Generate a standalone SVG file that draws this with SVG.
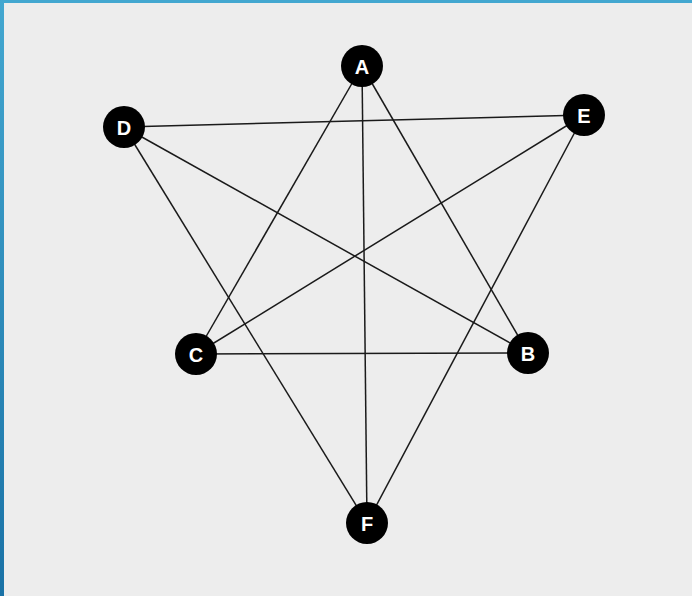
<svg xmlns="http://www.w3.org/2000/svg" width="692" height="596" viewBox="0 0 692 596">
<defs>
<linearGradient id="lb" x1="0" y1="0" x2="0" y2="1">
<stop offset="0" stop-color="#43a7d0"/>
<stop offset="1" stop-color="#1a72a6"/>
</linearGradient>
<style>
.e{stroke:#1a1a1a;stroke-width:1.5;fill:none}
.n circle{fill:#000}
.n text{fill:#fff;font-family:"Liberation Sans",Arial,sans-serif;font-weight:bold;font-size:20px;text-anchor:middle;dominant-baseline:central}
</style>
</defs>
<rect width="692" height="596" fill="#ededed"/>
<rect x="0" y="0" width="692" height="3" fill="#43a7d0"/>
<rect x="0" y="0" width="4" height="596" fill="url(#lb)"/>
<g id="edges">
<line class="e" x1="362" y1="66" x2="196" y2="354"/>
<line class="e" x1="362" y1="66" x2="528" y2="353"/>
<line class="e" x1="362" y1="66" x2="367" y2="523"/>
<line class="e" x1="124" y1="127" x2="584" y2="115"/>
<line class="e" x1="124" y1="127" x2="528" y2="353"/>
<line class="e" x1="124" y1="127" x2="367" y2="523"/>
<line class="e" x1="584" y1="115" x2="196" y2="354"/>
<line class="e" x1="584" y1="115" x2="367" y2="523"/>
<line class="e" x1="196" y1="354" x2="528" y2="353"/>
</g>
<g id="A" class="n"><circle cx="362" cy="66" r="21"/><text x="362" y="67">A</text></g>
<g id="D" class="n"><circle cx="124" cy="127" r="21"/><text x="124" y="128">D</text></g>
<g id="E" class="n"><circle cx="584" cy="115" r="21"/><text x="584" y="116">E</text></g>
<g id="C" class="n"><circle cx="196" cy="354" r="21"/><text x="196" y="355">C</text></g>
<g id="B" class="n"><circle cx="528" cy="353" r="21"/><text x="528" y="354">B</text></g>
<g id="F" class="n"><circle cx="367" cy="523" r="21"/><text x="367" y="524">F</text></g>
</svg>
